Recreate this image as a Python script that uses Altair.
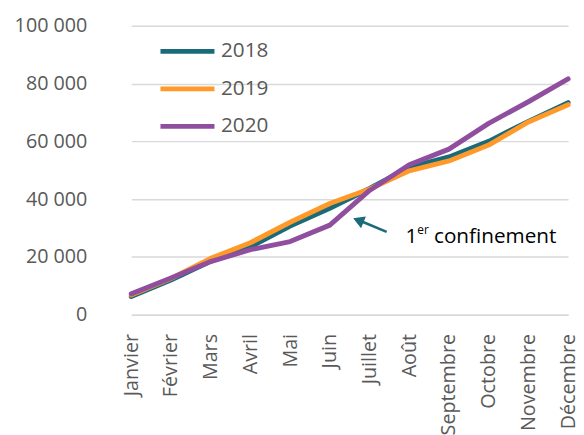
import altair as alt
import pandas as pd

months = ["Janvier", "Février", "Mars", "Avril", "Mai", "Juin", "Juillet",
          "Août", "Septembre", "Octobre", "Novembre", "Décembre"]
years = ["2018", "2019", "2020"]
v2018 = [6300, 12000, 18500, 23500, 30700, 36800, 43700, 51000, 54600, 60000, 66900, 73400]
v2019 = [6800, 12500, 19500, 24900, 32000, 38500, 43500, 49800, 53200, 58700, 66700, 72700]
v2020 = [7200, 12700, 18400, 22500, 25300, 31000, 43000, 51900, 57300, 66200, 73700, 81600]
colors = ["#196B7A", "#FF9A2A", "#904F9E"]

rows = []
for y, vals in zip(years, [v2018, v2019, v2020]):
    for m, v in zip(months, vals):
        rows.append({"mois": m, "annee": y, "valeur": v, "ordre": years.index(y)})
df = pd.DataFrame(rows)

FONT = "Open Sans"
GRAY = "#595959"

x = alt.X("mois:N", sort=months, title=None,
          scale=alt.Scale(type="point", range=[21, 464], padding=0),
          axis=alt.Axis(labelAngle=-90, labelFontSize=20, labelFont=FONT, labelColor=GRAY,
                        ticks=False, domainColor="#D9D9D9", domainWidth=1.5,
                        labelPadding=19, grid=False))
y = alt.Y("valeur:Q", title=None,
          scale=alt.Scale(domain=[0, 100000], nice=False),
          axis=alt.Axis(values=[0, 20000, 40000, 60000, 80000, 100000],
                        labelExpr="replace(format(datum.value, ','), /,/g, ' ')",
                        labelFontSize=20, labelFont=FONT, labelColor=GRAY,
                        ticks=False, domain=False, gridColor="#D9D9D9", gridWidth=1.5,
                        labelPadding=24))

lines = alt.Chart(df).mark_line(strokeWidth=5, strokeCap="round", strokeJoin="round").encode(
    x=x, y=y,
    color=alt.Color("annee:N", title=None,
                    scale=alt.Scale(domain=years, range=colors),
                    legend=alt.Legend(orient="none", legendX=48, legendY=8,
                                      symbolType="stroke", symbolStrokeWidth=5,
                                      symbolSize=3000, clipHeight=36,
                                      labelFontSize=21, labelFont=FONT, labelColor=GRAY,
                                      labelOffset=4, padding=0)),
    order="ordre:Q",
)

arrow_line = alt.Chart(pd.DataFrame({"a": [0]})).mark_rule(
    color="#196B7A", strokeWidth=2.5).encode(
    x=alt.value(280), y=alt.value(209), x2=alt.value(256), y2=alt.value(199))
arrow_head = alt.Chart(pd.DataFrame({"a": [0]})).mark_point(
    shape="triangle", filled=True, opacity=1, color="#196B7A", size=170, angle=292).encode(
    x=alt.value(253), y=alt.value(198))
t1 = alt.Chart(pd.DataFrame({"t": ["1"]})).mark_text(
    align="left", baseline="alphabetic", fontSize=21, font=FONT, color="#000000").encode(
    x=alt.value(299), y=alt.value(220), text="t:N")
t2 = alt.Chart(pd.DataFrame({"t": ["er"]})).mark_text(
    align="left", baseline="alphabetic", fontSize=12, font=FONT, color="#000000").encode(
    x=alt.value(311), y=alt.value(211), text="t:N")
t3 = alt.Chart(pd.DataFrame({"t": ["confinement"]})).mark_text(
    align="left", baseline="alphabetic", fontSize=21, font=FONT, color="#000000").encode(
    x=alt.value(328), y=alt.value(220), text="t:N")

chart = alt.layer(lines, arrow_line, arrow_head, t1, t2, t3).properties(
    width=472, height=293,
    autosize=alt.AutoSizeParams(type="none"),
    padding={"left": 104, "top": 15, "right": 0, "bottom": 119},
    background="white",
).configure_view(stroke=None)

chart.save("out.html", embed_options={"renderer": "svg", "actions": False})
